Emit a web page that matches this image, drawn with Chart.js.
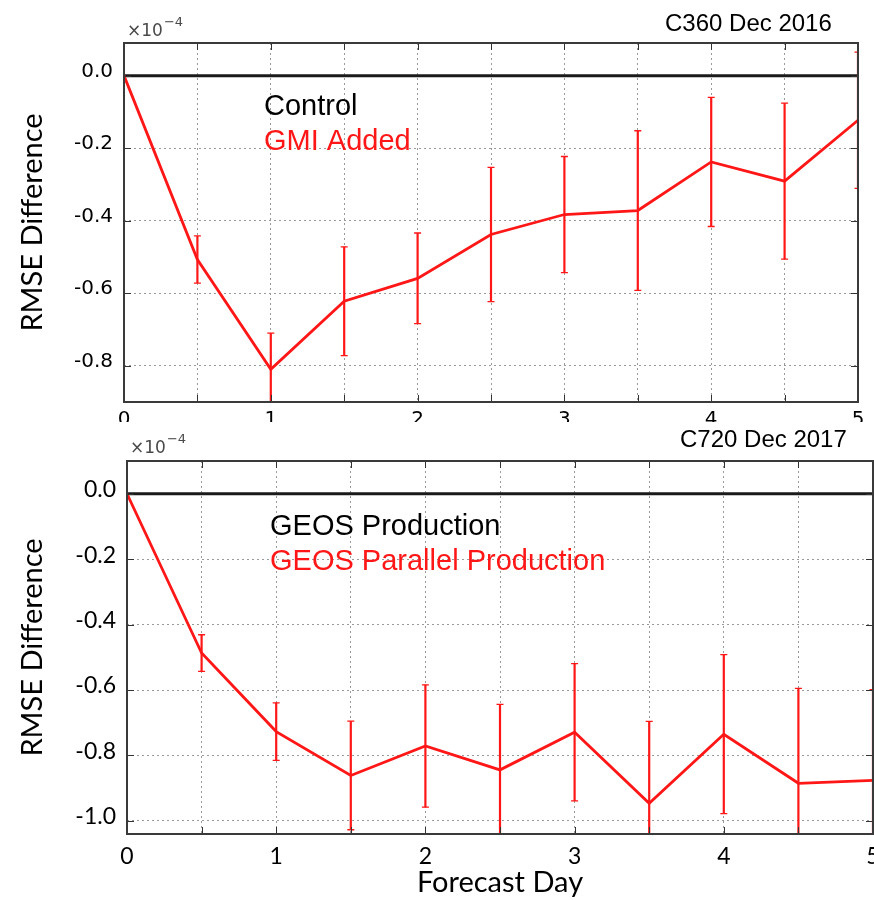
<!DOCTYPE html>
<html>
<head>
<meta charset="utf-8">
<script src="https://cdn.jsdelivr.net/npm/chart.js@4.4.0/dist/chart.umd.min.js"></script>
<style>
  body { margin: 0; background: #fff; width: 874px; height: 900px; overflow: hidden; position: relative; }
  #topWrap { position: absolute; left: 0; top: 0; }
  #bottomWrap { position: absolute; left: 0; top: 425px; background: #fff; }
  canvas { display: block; }
</style>
</head>
<body>
<div id="topWrap"><canvas id="topChart" width="874" height="425"></canvas></div>
<div id="bottomWrap"><canvas id="bottomChart" width="874" height="475"></canvas></div>
<script>
// forecast lead time (days) and RMSE differences, in units of 1e-4
const forecastDays = [0, 0.5, 1, 1.5, 2, 2.5, 3, 3.5, 4, 4.5, 5];
const dayTicks = [0, 0.5, 1, 1.5, 2, 2.5, 3, 3.5, 4, 4.5, 5];

// C360 Dec 2016: GMI added minus control
const gmiMean = [0, -0.507, -0.81, -0.622, -0.559, -0.438, -0.383, -0.372, -0.238, -0.291, -0.123];
const gmiErr  = [0, 0.065, 0.10, 0.15, 0.125, 0.185, 0.16, 0.22, 0.178, 0.215, 0.188];

// C720 Dec 2017: parallel production minus production
const parallelMean = [0, -0.487, -0.727, -0.861, -0.771, -0.844, -0.729, -0.946, -0.735, -0.885, -0.876];
const parallelErr  = [0, 0.056, 0.088, 0.166, 0.187, 0.20, 0.21, 0.25, 0.243, 0.29, 0.277];

const topYTicks = [-0.8, -0.6, -0.4, -0.2, 0.0];
const bottomYTicks = [-1.0, -0.8, -0.6, -0.4, -0.2, 0.0];

const RED = 'rgb(255, 22, 22)';
const LINE_BLACK = '#1a1a1a';

const points = (xs, ys) => xs.map((x, i) => ({ x: x, y: ys[i] }));

// vertical error bars with small caps, clipped to the plot area
const errorBars = {
  id: 'errorBars',
  afterDatasetsDraw(chart) {
    const { ctx, chartArea, scales } = chart;
    ctx.save();
    ctx.beginPath();
    ctx.rect(chartArea.left, chartArea.top, chartArea.width, chartArea.height);
    ctx.clip();
    chart.data.datasets.forEach(ds => {
      if (!ds.errors) return;
      ctx.strokeStyle = ds.borderColor;
      ds.data.forEach((p, i) => {
        const e = ds.errors[i];
        if (!e) return;
        const px = scales.x.getPixelForValue(p.x);
        const hi = scales.y.getPixelForValue(p.y + e);
        const lo = scales.y.getPixelForValue(p.y - e);
        ctx.lineWidth = 2.2;
        ctx.beginPath();
        ctx.moveTo(px, hi);
        ctx.lineTo(px, lo);
        ctx.stroke();
        ctx.lineWidth = 1.3;
        ctx.beginPath();
        ctx.moveTo(px - 3.5, hi); ctx.lineTo(px + 3.5, hi);
        ctx.moveTo(px - 3.5, lo); ctx.lineTo(px + 3.5, lo);
        ctx.stroke();
      });
    });
    ctx.restore();
  }
};

// box frame, inward tick marks and the text notes
const frame = {
  id: 'frame',
  afterDraw(chart, args, opts) {
    const { ctx, chartArea: a, scales } = chart;
    ctx.save();
    ctx.strokeStyle = '#333';
    ctx.lineWidth = 1;
    ctx.beginPath();
    scales.x.ticks.forEach(t => {
      const px = Math.round(scales.x.getPixelForValue(t.value)) + 0.5;
      ctx.moveTo(px, a.top); ctx.lineTo(px, a.top + 7);
      ctx.moveTo(px, a.bottom); ctx.lineTo(px, a.bottom - 7);
    });
    scales.y.ticks.forEach(t => {
      const py = Math.round(scales.y.getPixelForValue(t.value)) + 0.5;
      ctx.moveTo(a.left, py); ctx.lineTo(a.left + 7, py);
      ctx.moveTo(a.right, py); ctx.lineTo(a.right - 7, py);
    });
    ctx.stroke();
    ctx.strokeStyle = '#3a3a3a';
    ctx.lineWidth = 2;
    ctx.strokeRect(a.left, a.top, a.right - a.left, a.bottom - a.top);

    ctx.textBaseline = 'alphabetic';
    ctx.textAlign = 'left';
    (opts.notes || []).forEach(n => {
      ctx.font = n.font;
      ctx.fillStyle = n.color;
      ctx.fillText(n.text, n.x, n.y);
      if (n.sup) {
        const w = ctx.measureText(n.text).width;
        ctx.font = n.supFont;
        ctx.fillText(n.sup, n.x + w + 1, n.y - 10);
      }
    });
    ctx.restore();
  }
};

function buildChart(canvasId, cfg) {
  return new Chart(document.getElementById(canvasId), {
    type: 'line',
    data: {
      datasets: [{
        label: cfg.seriesLabel,
        data: points(forecastDays, cfg.mean),
        errors: cfg.err,
        borderColor: RED,
        borderWidth: 2.8,
        pointRadius: 0,
        tension: 0,
        order: 0
      }, {
        label: cfg.baseLabel,
        data: [{ x: 0, y: 0 }, { x: 5, y: 0 }],
        borderColor: LINE_BLACK,
        borderWidth: 3,
        pointRadius: 0,
        order: 1
      }]
    },
    options: {
      responsive: false,
      animation: false,
      layout: { padding: cfg.padding },
      plugins: {
        legend: { display: false },
        tooltip: { enabled: false },
        frame: { notes: cfg.notes }
      },
      scales: {
        x: {
          type: 'linear',
          min: 0,
          max: 5,
          afterBuildTicks: s => { s.ticks = dayTicks.map(v => ({ value: v })); },
          afterFit: s => {
            s.height = cfg.xHeight;
            s.paddingLeft = 0;
            s.paddingRight = 0;
          },
          grid: { color: '#9a9a9a', lineWidth: 1, drawTicks: false },
          border: { display: false, dash: [2, 3] },
          ticks: {
            autoSkip: false,
            maxRotation: 0,
            padding: cfg.xTickPad,
            color: '#000',
            font: cfg.xTickFont,
            callback: v => Number.isInteger(v) ? String(v) : ''
          },
          title: cfg.xTitle
        },
        y: {
          min: cfg.yMin,
          max: cfg.yMax,
          afterBuildTicks: s => { s.ticks = cfg.yTicks.map(v => ({ value: v })); },
          afterFit: s => { s.width = cfg.yWidth; },
          grid: { color: '#9a9a9a', lineWidth: 1, drawTicks: false },
          border: { display: false, dash: [2, 3] },
          ticks: {
            padding: 11,
            labelOffset: -4,
            color: '#000',
            font: cfg.yTickFont,
            callback: v => Math.abs(v) < 1e-9 ? '0.0' : v.toFixed(1)
          },
          title: {
            display: true,
            text: 'RMSE Difference',
            color: '#000',
            font: { family: 'Lato', size: 29 },
            padding: { top: 15, bottom: 0 }
          }
        }
      }
    },
    plugins: [errorBars, frame]
  });
}

buildChart('topChart', {
  seriesLabel: 'GMI Added',
  baseLabel: 'Control',
  mean: gmiMean,
  err: gmiErr,
  yMin: -0.9,
  yMax: 0.09,
  yTicks: topYTicks,
  yWidth: 124,
  xHeight: 20,
  xTickPad: 6,
  padding: { top: 43, right: 16, left: 0, bottom: 0 },
  xTickFont: { family: 'DejaVu Sans', size: 20 },
  yTickFont: { family: 'DejaVu Sans', size: 20 },
  xTitle: { display: false },
  notes: [
    { text: '\u00d710', sup: '\u22124', x: 127, y: 36, font: '17px "DejaVu Sans"', supFont: '13px "DejaVu Sans"', color: '#4a4a4a' },
    { text: 'C360 Dec 2016', x: 665, y: 31, font: '24px "Liberation Sans"', color: '#000' },
    { text: 'Control', x: 264, y: 115, font: '29px "Liberation Sans"', color: '#000' },
    { text: 'GMI Added', x: 264, y: 150, font: '29px "Liberation Sans"', color: RED }
  ]
});

buildChart('bottomChart', {
  seriesLabel: 'GEOS Parallel Production',
  baseLabel: 'GEOS Production',
  mean: parallelMean,
  err: parallelErr,
  yMin: -1.04,
  yMax: 0.1,
  yTicks: bottomYTicks,
  yWidth: 127,
  xHeight: 66,
  xTickPad: 9,
  padding: { top: 36, right: 1, left: 0, bottom: 0 },
  xTickFont: { family: 'Lato', size: 23 },
  yTickFont: { family: 'Lato', size: 23 },
  xTitle: {
    display: true,
    text: 'Forecast Day',
    color: '#000',
    font: { family: 'Lato', size: 29, lineHeight: 1.1 },
    padding: { top: 0, bottom: 1 }
  },
  notes: [
    { text: '\u00d710', sup: '\u22124', x: 130, y: 28, font: '17px "DejaVu Sans"', supFont: '13px "DejaVu Sans"', color: '#4a4a4a' },
    { text: 'C720 Dec 2017', x: 680, y: 22, font: '24px "Liberation Sans"', color: '#000' },
    { text: 'GEOS Production', x: 270, y: 110, font: '29px "Liberation Sans"', color: '#000' },
    { text: 'GEOS Parallel Production', x: 270, y: 145, font: '29px "Liberation Sans"', color: RED }
  ]
});
</script>
</body>
</html>
